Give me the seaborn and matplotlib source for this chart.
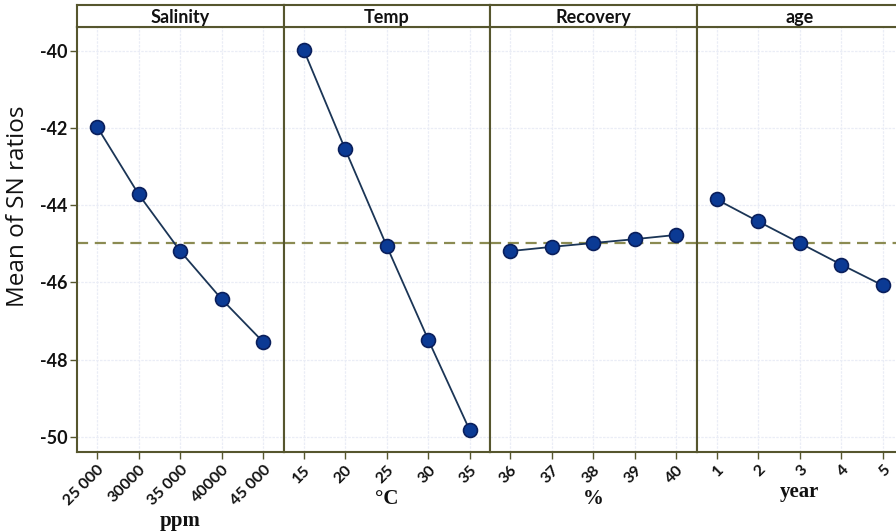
import matplotlib
matplotlib.use("Agg")
import matplotlib.pyplot as plt
import seaborn as sns
import pandas as pd

# ---- data ----
factors = ["Salinity", "Temp", "Recovery", "age"]
units = ["ppm", "\u00b0C", "%", "year"]
salinity_levels = [25000, 30000, 35000, 40000, 45000]
salinity_sn = [-41.97, -43.72, -45.19, -46.44, -47.55]
temp_levels = [15, 20, 25, 30, 35]
temp_sn = [-39.97, -42.55, -45.06, -47.49, -49.84]
recovery_levels = [36, 37, 38, 39, 40]
recovery_sn = [-45.19, -45.08, -44.98, -44.88, -44.77]
age_levels = [1, 2, 3, 4, 5]
age_sn = [-43.85, -44.42, -44.98, -45.54, -46.08]
grand_mean = -44.98
salinity_ticklabels = ["25 000", "30000", "35 000", "40000", "45 000"]
temp_ticklabels = ["15", "20", "25", "30", "35"]
recovery_ticklabels = ["36", "37", "38", "39", "40"]
age_ticklabels = ["1", "2", "3", "4", "5"]
y_ticks = [-40, -42, -44, -46, -48, -50]

levels = [salinity_levels, temp_levels, recovery_levels, age_levels]
values = [salinity_sn, temp_sn, recovery_sn, age_sn]
ticklabels = [salinity_ticklabels, temp_ticklabels, recovery_ticklabels, age_ticklabels]

sns.set_theme(style="white")
plt.rcParams["font.family"] = ["Open Sans", "DejaVu Sans"]

W, H = 896, 531
fig = plt.figure(figsize=(W / 100, H / 100), dpi=100)

frame_c = "#56562e"
mean_c = "#8b8b52"
grid_c = "#eaedf6"
line_c = "#1b3556"
face_c = "#0b3a94"
edge_c = "#0a1f5c"

left_px = 77
panel_w = 206.5
top_px = 27
bot_px = 451.7
head_top = 5

ymin, ymax = -50.39, -39.38
tick_font = dict(fontweight="bold", color="#111111", family=["Lato", "DejaVu Sans"])

for i in range(4):
    x0 = (left_px + i * panel_w) / W
    ax = fig.add_axes([x0, 1 - bot_px / H, panel_w / W, (bot_px - top_px) / H])
    df = pd.DataFrame({"level": levels[i], "sn": values[i]})
    ax.axhline(grand_mean, color=mean_c, lw=1.6, ls=(0, (5, 3)), zorder=1)
    sns.lineplot(data=df, x="level", y="sn", ax=ax, color=line_c, lw=1.3,
                 marker="o", markersize=10, markerfacecolor=face_c,
                 markeredgecolor=edge_c, markeredgewidth=1.2, zorder=3)
    lv = levels[i]
    step = lv[1] - lv[0]
    pad = step * 0.485
    ax.set_xlim(lv[0] - pad, lv[-1] + pad)
    ax.set_ylim(ymin, ymax)
    ax.set_xticks(lv)
    ax.set_xticklabels(ticklabels[i], rotation=45, ha="right",
                       rotation_mode="anchor", fontsize=11.5, **tick_font)
    ax.set_yticks(y_ticks)
    if i == 0:
        ax.set_yticklabels([str(v) for v in y_ticks], fontsize=13, **tick_font)
        ax.set_ylabel("Mean of SN ratios", fontsize=17.5, color="#111111")
        ax.yaxis.set_label_coords(-0.23, 0.578)
        ax.tick_params(axis="y", left=True, length=5, width=1, color=frame_c, pad=2)
    else:
        ax.set_yticklabels([])
        ax.set_ylabel("")
        ax.tick_params(axis="y", left=False)
    ax.tick_params(axis="x", bottom=True, length=5, width=1, color=frame_c, pad=3)
    ax.set_xlabel(units[i], fontsize=15, fontweight="bold", color="#111111",
                  family=["Liberation Serif", "DejaVu Serif"], labelpad=2)
    ax.grid(True, color=grid_c, lw=0.9, ls=(0, (2, 1)))
    ax.set_axisbelow(True)
    for sp in ax.spines.values():
        sp.set_color(frame_c)
        sp.set_linewidth(1.5)
    # header strip
    hax = fig.add_axes([x0, 1 - top_px / H, panel_w / W, (top_px - head_top) / H])
    hax.set_xticks([])
    hax.set_yticks([])
    hax.set_facecolor("white")
    for sp in hax.spines.values():
        sp.set_color(frame_c)
        sp.set_linewidth(1.5)
    hax.text(0.5, 0.45, factors[i], ha="center", va="center", fontsize=13,
             fontweight="bold", color="#111111", family=["Lato", "DejaVu Sans"],
             transform=hax.transAxes)

fig.savefig("out.png", dpi=100)
